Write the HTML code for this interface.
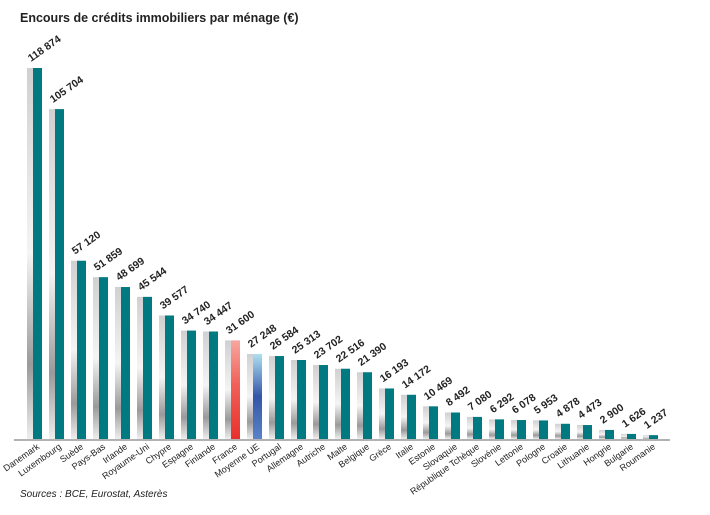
<!DOCTYPE html><html><head><meta charset="utf-8"><style>body{margin:0;background:#fff;font-family:"Liberation Sans",sans-serif}</style></head><body>
<svg width="710" height="510">
<defs>
<linearGradient id="sh" x1="0" y1="0" x2="0" y2="1"><stop offset="0" stop-color="#d0d0d2"/><stop offset="0.5" stop-color="#f4f4f4"/><stop offset="0.8" stop-color="#9a9a9c"/><stop offset="1" stop-color="#eee"/></linearGradient>
<linearGradient id="fr" x1="0" y1="0" x2="0" y2="1"><stop offset="0" stop-color="#f6a7a0"/><stop offset="0.45" stop-color="#f06058"/><stop offset="1" stop-color="#e8302c"/></linearGradient>
<linearGradient id="ue" x1="0" y1="0" x2="0" y2="1"><stop offset="0" stop-color="#aee0f0"/><stop offset="0.5" stop-color="#3456a8"/><stop offset="1" stop-color="#5a82c8"/></linearGradient>
</defs>
<text x="20" y="22" font-size="12.5" font-weight="bold" fill="#222">Encours de crédits immobiliers par ménage (€)</text>
<g id="bars"></g>
<line x1="14" y1="440" x2="670" y2="440" stroke="#999" stroke-width="1.5"/>
<text x="20" y="497" font-size="10" font-style="italic" fill="#222">Sources : BCE, Eurostat, Asterès</text>
</svg>
<script>
const categories=["Danemark","Luxembourg","Suède","Pays-Bas","Irlande","Royaume-Uni","Chypre","Espagne","Finlande","France","Moyenne UE","Portugal","Allemagne","Autriche","Malte","Belgique","Grèce","Italie","Estonie","Slovaquie","République Tchèque","Slovénie","Lettonie","Pologne","Croatie","Lithuanie","Hongrie","Bulgarie","Roumanie"];
const values=[118874,105704,57120,51859,48699,45544,39577,34740,34447,31600,27248,26584,25313,23702,22516,21390,16193,14172,10469,8492,7080,6292,6078,5953,4878,4473,2900,1626,1237];
const valueLabels=["118 874","105 704","57 120","51 859","48 699","45 544","39 577","34 740","34 447","31 600","27 248","26 584","25 313","23 702","22 516","21 390","16 193","14 172","10 469","8 492","7 080","6 292","6 078","5 953","4 878","4 473","2 900","1 626","1 237"];
const ns="http://www.w3.org/2000/svg",g=document.getElementById("bars");
const base=439,yMax=118874,hMax=371;
const y=v=>base-v/yMax*hMax, x=i=>33+i*22;
function mk(t,a){const e=document.createElementNS(ns,t);for(const k in a)e.setAttribute(k,a[k]);g.appendChild(e);return e;}
categories.forEach((c,i)=>{
 const top=y(values[i]);
 const s=mk("rect",{x:x(i)-6,y:top,width:6,height:base-top,fill:"url(#sh)"});
 
 
 const fill=c==="France"?"url(#fr)":c==="Moyenne UE"?"url(#ue)":"#007a80";
 const b=mk("rect",{x:x(i),y:top,width:9,height:base-top,fill:fill});
 
 
 const vl=mk("text",{x:x(i)-2,y:top-6,"font-size":"10.5","font-weight":"bold",fill:"#222",transform:`rotate(-35 ${x(i)-2} ${top-6})`});
 vl.textContent=valueLabels[i];
 
 
 const cx=x(i)+7,cy=448;
 const cl=mk("text",{x:cx,y:cy,"font-size":"9",fill:"#222","text-anchor":"end",transform:`rotate(-35 ${cx} ${cy})`});
 cl.textContent=c;
 
 
});
</script>
</body></html>
